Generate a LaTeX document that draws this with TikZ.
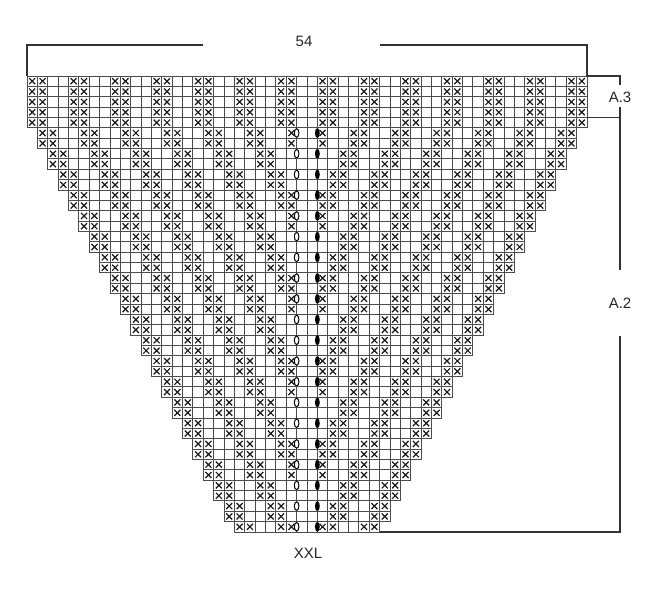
\documentclass[tikz,border=0pt]{standalone}
\usepackage{fontspec}
\setmainfont{Liberation Sans}
\begin{document}
\begin{tikzpicture}[x=1pt,y=-1pt,
  gridline/.style={line width=0.9pt, draw=black!70},
  xmark/.style={line width=1.2pt, draw=black!90},
  dimline/.style={line width=1.4pt, draw=black!80},
  lbl/.style={font=\fontsize{15}{17}\selectfont, text=black!85, inner sep=0pt},
  yarnover/.style={line width=1pt, draw=black, fill=white},
  decrease/.style={fill=black}]
\useasboundingbox (0,0) rectangle (650,596);
\pgfmathsetmacro{\cw}{560/54}
\pgfmathsetmacro{\ch}{456/44}
\def\xo{27}
\def\yo{76}
\foreach \r in {1,...,44}{
  \pgfmathtruncatemacro{\k}{\r<6 ? 0 : int(\r/2)-2}
  \pgfmathtruncatemacro{\kk}{53-\k}
  \pgfmathsetmacro{\ytop}{\yo+(\r-1)*\ch}
  \pgfmathsetmacro{\yc}{\ytop+0.5*\ch}
  \foreach \c in {\k,...,\kk}{
    \draw[gridline] ({\xo+\c*\cw},\ytop) rectangle ++(\cw,\ch);
  }
  \foreach \c in {\k,...,25}{
    \pgfmathtruncatemacro{\m}{mod(\c-\k,4)}
    \ifnum\m<2
      \pgfmathsetmacro{\xa}{\xo+(\c+0.5)*\cw}
      \pgfmathsetmacro{\xb}{\xo+(53-\c+0.5)*\cw}
      \draw[xmark] ({\xa-3},{\yc-3}) -- ({\xa+3},{\yc+3}) ({\xa-3},{\yc+3}) -- ({\xa+3},{\yc-3});
      \draw[xmark] ({\xb-3},{\yc-3}) -- ({\xb+3},{\yc+3}) ({\xb-3},{\yc+3}) -- ({\xb+3},{\yc-3});
    \fi
  }
  \ifodd\r\else\ifnum\r>5
    \draw[yarnover] ({\xo+26*\cw},\yc) ellipse (2.3 and 4.3);
    \fill[decrease] ({\xo+28*\cw},\yc) ellipse (2.4 and 5);
  \fi\fi
}
% labels
\node[lbl] (n54) at (304,41) {54};
\node[lbl] (xxl) at (308,553) {XXL};
\node[lbl] (a3) at (620,97) {A.3};
\node[lbl] (a2) at (620,303) {A.2};
% dimension lines
\coordinate (gtl) at (27,76);
\coordinate (gtr) at (587,76);
\coordinate (top1) at (27,45);
\coordinate (top2) at (203,45);
\coordinate (top3) at (380,45);
\coordinate (top4) at (587,45);
\coordinate (a3t) at (620,76);
\coordinate (a3m1) at (620,85);
\coordinate (a3m2) at (620,107);
\coordinate (a3l) at (587,117.45);
\coordinate (a3b) at (620,117.45);
\coordinate (a2m1) at (620,270);
\coordinate (a2m2) at (620,336);
\coordinate (a2b) at (620,532);
\coordinate (gbr) at (380,532);
\draw[dimline] (gtl) -- (top1) -- (top2);
\draw[dimline] (top3) -- (top4) -- (gtr) -- (a3t) -- (a3m1);
\draw[dimline] (a3m2) -- (a3b) -- (a2m1);
\draw[dimline] (a3l) -- (a3b);
\draw[dimline] (a2m2) -- (a2b) -- (gbr);
\end{tikzpicture}
\end{document}
